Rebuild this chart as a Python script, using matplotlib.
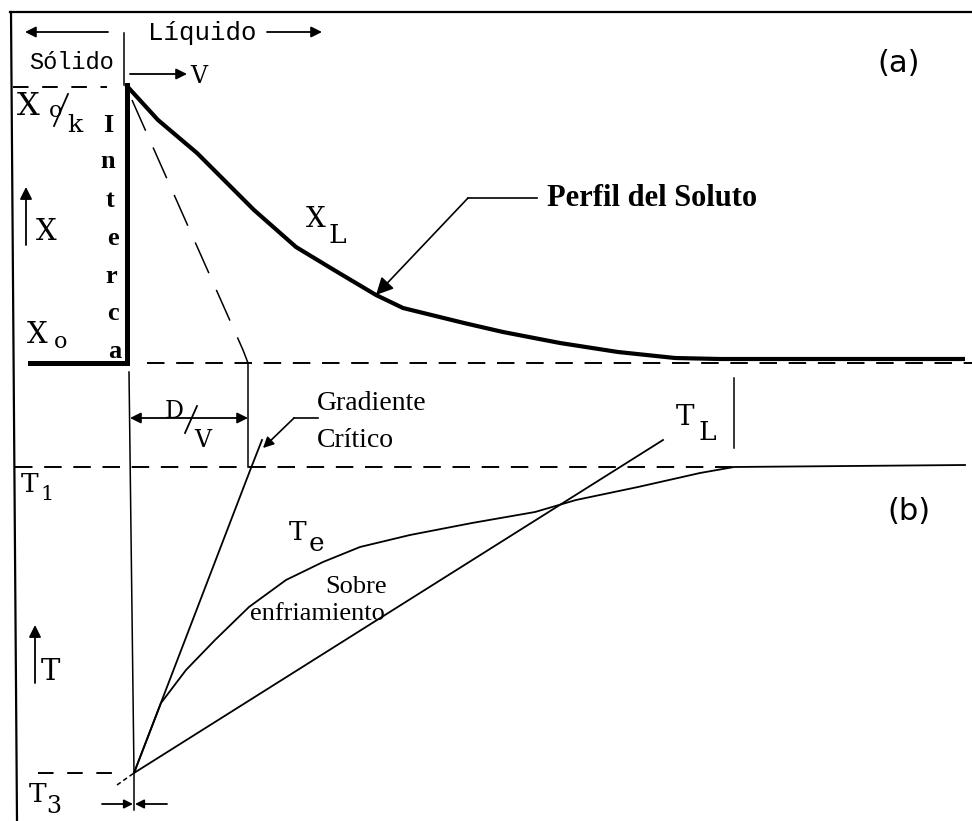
import matplotlib
matplotlib.use("Agg")
import matplotlib.pyplot as plt

# ---- schematic data (distance from left edge, level measured downward) ----
# (a) solute profile X_L ahead of the interface
solute_x = [126, 158, 197, 231, 254, 296, 334, 376, 403, 464, 503, 560, 618, 675, 720, 965]
solute_y = [85, 120, 153, 187, 210, 247, 270, 295, 308, 323, 332, 343, 352, 358, 359, 359]
# solid side at X_o
solid_x = [30, 127, 127]
solid_y = [363, 363, 85]
# tangent of the profile at the interface (defines D/V)
tangent_x = [132, 243, 248]
tangent_y = [100, 350, 363]

# (b) equilibrium liquidus temperature T_e
te_x = [134, 161, 186, 215, 249, 286, 323, 360, 410, 472, 535, 576, 638, 700, 734, 965]
te_y = [773, 703, 670, 640, 607, 580, 562, 547, 535, 523, 512, 500, 487, 473, 467, 465]
# actual temperature gradient T_L
tl_x = [134, 663]
tl_y = [773, 440]
tl_tail_x = [117, 134]
tl_tail_y = [785, 773]
# critical gradient
crit_x = [134, 251, 262]
crit_y = [773, 468, 440]

# reference levels
x0k_level = 87
x0_level = 363
t1_level = 467
t3_level = 773
dv_pos = 248
right_mark = 734

W, H = 972, 821
fig = plt.figure(figsize=(W / 100, H / 100), dpi=100)
ax = fig.add_axes([0, 0, 1, 1])
ax.set_xlim(0, W)
ax.set_ylim(H, 0)
ax.axis("off")

SERIF = "Liberation Serif"
MONO = "Liberation Mono"
SYM = "DejaVu Serif"
K = "black"
thin = 1.1
dash = (0, (9, 6))


def label(x, y, s, size, family=SYM, **kw):
    ax.text(x, y, s, fontsize=size, family=family, va="baseline", ha="left", **kw)


def arrow(x0, y0, x1, y1, ms=16, lw=1.3):
    ax.annotate("", xy=(x1, y1), xytext=(x0, y0),
                arrowprops=dict(arrowstyle="-|>", color=K, lw=lw,
                                mutation_scale=ms, shrinkA=0, shrinkB=0))


# frame
ax.plot([10, 972], [12, 12], color=K, lw=1.6)
ax.plot([11, 17], [12, 821], color=K, lw=1.6)

# ---------- panel (a) ----------
ax.plot([124, 124], [33, 85], color=K, lw=thin)
ax.plot(solid_x, solid_y, color=K, lw=3.6, solid_joinstyle="miter")
ax.plot(solute_x, solute_y, color=K, lw=3.0, solid_capstyle="butt")
ax.plot([13, 107], [x0k_level, x0k_level], color=K, lw=1.4, linestyle=(0, (8, 7)))
ax.plot([147, 972], [x0_level, x0_level], color=K, lw=1.4, linestyle=dash)
ax.plot(tangent_x, tangent_y, color=K, lw=1.1, linestyle=(0, (22, 12)))
ax.plot([dv_pos, dv_pos], [x0_level, t1_level], color=K, lw=thin)

# Solido / Liquido arrows
arrow(108, 32, 25, 32)
arrow(267, 32, 322, 32)
label(148, 40, "Líquido", 18.5, MONO)
label(29, 69, "Sólido", 17, MONO)
arrow(130, 74, 187, 74)
label(190, 83, "V", 17)

# X_o/k
label(17, 115, "X", 23)
label(49, 117, "o", 16)
ax.plot([54, 68], [126, 94], color=K, lw=1.3)
label(67, 132, "k", 18)

# X axis arrow
arrow(26, 245, 26, 187, ms=18)
label(36, 240, "X", 21)

# X_o
label(27, 343, "X", 21)
label(54, 348, "o", 16)

# interface letters
for ch, xc, yb in zip(["I", "n", "t", "e", "r", "c", "a"],
                      [108, 108, 110, 113, 111, 113, 115],
                      [132, 168, 207, 245, 283, 320, 358]):
    ax.text(xc, yb, ch, fontsize=19, family=SERIF, weight="bold",
            va="baseline", ha="center")

# X_L
label(306, 227, "X", 20)
label(328, 243, "L", 19)

# solute profile label with leader
ax.plot([537, 468], [198, 198], color=K, lw=1.2)
arrow(468, 198, 376, 295, ms=26, lw=1.2)
label(547, 206, "Perfil del Soluto", 22, SERIF, weight="bold")

label(877, 72, "(a)", 22, "DejaVu Sans")

# ---------- panel (b) ----------
ax.plot([129, 134], [372, t3_level], color=K, lw=thin)
ax.plot([134, 134], [t3_level, 810], color=K, lw=thin)
ax.plot([right_mark, right_mark], [378, 448], color=K, lw=thin)

# D/V dimension
arrow(190, 418, 130, 418, ms=16)
arrow(190, 418, dv_pos, 418, ms=16)
ax.plot([160, 207], [418, 418], color="white", lw=3)
label(165, 418, "D", 17)
ax.plot([185, 197], [433, 406], color=K, lw=1.3)
label(194, 447, "V", 17)

# critical gradient label
ax.plot([318, 294], [418, 418], color=K, lw=1.2)
arrow(294, 418, 263, 448, ms=16, lw=1.2)
label(317, 410, "Gradiente", 20, SERIF)
label(317, 447, "Crítico", 20, SERIF)

# T1 level
ax.plot([15, right_mark], [t1_level, t1_level], color=K, lw=1.4, linestyle=dash)
label(21, 492, "T", 19)
label(40, 500, "1", 15)

# temperature curves
ax.plot(te_x, te_y, color=K, lw=1.3)
ax.plot(tl_x, tl_y, color=K, lw=1.3)
ax.plot(tl_tail_x, tl_tail_y, color=K, lw=1.1, linestyle=(0, (3, 2)))
ax.plot(crit_x, crit_y, color=K, lw=1.3)

label(676, 425, "T", 20)
label(698, 440, "L", 19)
label(289, 540, "T", 19)
label(309, 551, "e", 19)
label(325, 593, "Sobre", 19, SERIF)
label(250, 620, "enfriamiento", 19, SERIF)

label(887, 520, "(b)", 22, "DejaVu Sans")

# T axis arrow
arrow(35, 683, 35, 625, ms=18)
label(41, 680, "T", 21)

# T3 level
ax.plot([38, 117], [t3_level, t3_level], color=K, lw=1.4, linestyle=(0, (8, 7)))
label(29, 802, "T", 19)
label(46, 813, "3", 17)

# small bracket at the bottom
arrow(102, 804, 133, 804, ms=13)
arrow(167, 804, 135, 804, ms=13)

fig.savefig("out.png", dpi=100, facecolor="white")
